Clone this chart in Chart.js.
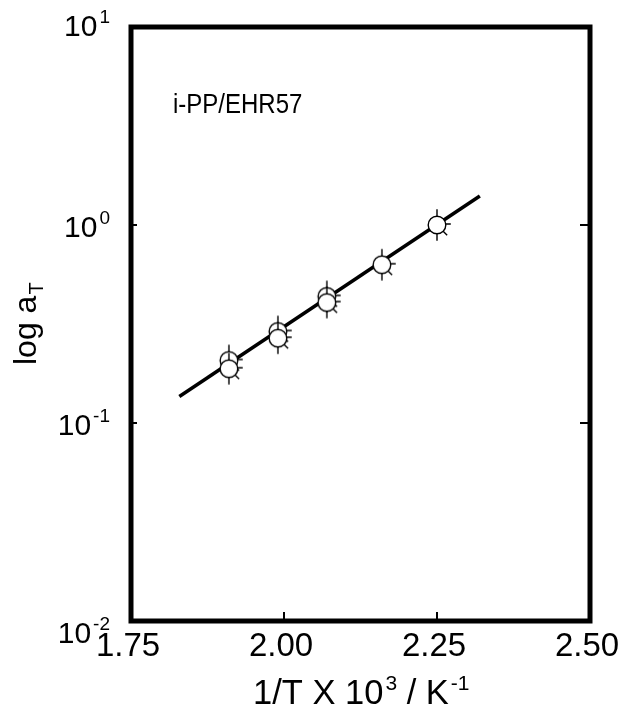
<!DOCTYPE html>
<html>
<head>
<meta charset="utf-8">
<script src="https://cdn.jsdelivr.net/npm/chart.js@4"></script>
<style>
  body { margin: 0; background: #fff; }
  #wrap { width: 619px; height: 719px; }
</style>
</head>
<body>
<div id="wrap"><canvas id="shiftChart" width="619" height="719"></canvas></div>
<script>
// measured shift factors (pairs at the same temperature drawn upper first)
const invT = [1.91, 1.91, 1.99, 1.99, 2.07, 2.07, 2.16, 2.25];
const aT = [0.207, 0.188, 0.29, 0.268, 0.436, 0.406, 0.63, 1.0];

// fitted Arrhenius line
const fitX = [1.829, 2.32];
const fitY = [0.136, 1.40];

const xTicks = [1.75, 2.00, 2.25, 2.50];
const yExps = [1, 0, -1, -2];
const xInnerTicks = [2.00, 2.25];
const yInnerTicks = [1, 0.1];

const FONT = '"Liberation Sans", Arial, Helvetica, sans-serif';

// open circle with the little spokes seen on the scanned markers
function makeMarker() {
    const c = document.createElement('canvas');
    c.width = 44; c.height = 44;
    const g = c.getContext('2d');
    const cx = 22, cy = 22, r = 8.8;
    g.strokeStyle = '#000';
    g.lineWidth = 1.4;
    g.beginPath();
    g.moveTo(cx, cy - r - 7); g.lineTo(cx, cy - r);
    g.moveTo(cx + r, cy - 1); g.lineTo(cx + r + 5, cy - 1);
    g.moveTo(cx + r * 0.7, cy + r * 0.7); g.lineTo(cx + r * 0.7 + 4, cy + r * 0.7 + 4);
    g.moveTo(cx, cy + r); g.lineTo(cx, cy + r + 7);
    g.stroke();
    g.beginPath();
    g.arc(cx, cy, r, 0, Math.PI * 2);
    g.fillStyle = '#fff';
    g.fill();
    g.stroke();
    return c;
}

function supWidth(ctx, base, sup, baseSize, supSize) {
    ctx.font = baseSize + 'px ' + FONT;
    const w1 = ctx.measureText(base).width;
    ctx.font = supSize + 'px ' + FONT;
    return w1 + 2 + ctx.measureText(sup).width;
}

function drawSup(ctx, base, sup, x, y, baseSize, supSize, rise) {
    ctx.textAlign = 'left';
    ctx.font = baseSize + 'px ' + FONT;
    ctx.fillText(base, x, y);
    const w = ctx.measureText(base).width;
    ctx.font = supSize + 'px ' + FONT;
    ctx.fillText(sup, x + w + 2, y - rise);
    return x + w + 2 + ctx.measureText(sup).width;
}

const framePlugin = {
    id: 'frame',
    afterDraw(chart) {
        const ctx = chart.ctx;
        const a = chart.chartArea;
        const xs = chart.scales.x, ys = chart.scales.y;
        ctx.save();
        ctx.strokeStyle = '#000';
        ctx.fillStyle = '#000';

        // inward ticks
        ctx.lineWidth = 2;
        ctx.beginPath();
        xInnerTicks.forEach(v => {
            const px = xs.getPixelForValue(v);
            ctx.moveTo(px, a.bottom); ctx.lineTo(px, a.bottom - 9);
        });
        yInnerTicks.forEach(v => {
            const py = ys.getPixelForValue(v);
            ctx.moveTo(a.left, py); ctx.lineTo(a.left + 6, py);
            ctx.moveTo(a.right, py); ctx.lineTo(a.right - 10, py);
        });
        ctx.stroke();

        // frame
        ctx.lineWidth = 5;
        ctx.strokeRect(a.left, a.top, a.right - a.left, a.bottom - a.top);

        // x tick labels
        ctx.textBaseline = 'alphabetic';
        ctx.textAlign = 'center';
        ctx.font = '33px ' + FONT;
        xTicks.forEach(v => {
            ctx.fillText(v.toFixed(2), xs.getPixelForValue(v) - 3, a.bottom + 35);
        });

        // y tick labels 10^n
        yExps.forEach(n => {
            const py = ys.getPixelForValue(Math.pow(10, n));
            const w = supWidth(ctx, '10', String(n), 30, 19);
            const off = n === 1 ? 9 : (n === -2 ? 22 : 12);
            drawSup(ctx, '10', String(n), a.left - 21 - w, py + off, 30, 19, 13);
        });

        // x title
        ctx.textAlign = 'left';
        let x = drawSup(ctx, '1/T X 10', '3', 253, a.bottom + 83, 34.5, 21, 14);
        drawSup(ctx, ' / K', '-1', x, a.bottom + 83, 34.5, 21, 14);

        // y title, rotated
        ctx.save();
        ctx.translate(36, 365);
        ctx.rotate(-Math.PI / 2);
        ctx.textAlign = 'left';
        ctx.font = '32px ' + FONT;
        ctx.fillText('log a', 0, 0);
        const lw = ctx.measureText('log a').width;
        ctx.font = '20px ' + FONT;
        ctx.fillText('T', lw + 1, 7);
        ctx.restore();

        // sample label
        ctx.save();
        ctx.translate(a.left + 42, a.top + 86);
        ctx.scale(1, 1.12);
        ctx.font = '24px ' + FONT;
        ctx.textAlign = 'left';
        ctx.fillText('i-PP/EHR57', 0, 0);
        ctx.restore();

        ctx.restore();
    }
};

const marker = makeMarker();

new Chart(document.getElementById('shiftChart'), {
    type: 'scatter',
    data: {
        datasets: [
            {
                label: 'a_T',
                data: invT.map((v, i) => ({ x: v, y: aT[i] })),
                pointStyle: marker,
                pointRadius: 10,
                showLine: false
            },
            {
                type: 'line',
                label: 'fit',
                data: fitX.map((v, i) => ({ x: v, y: fitY[i] })),
                borderColor: '#000',
                borderWidth: 3.5,
                pointRadius: 0,
                fill: false
            }
        ]
    },
    options: {
        responsive: false,
        animation: false,
        layout: { padding: { left: 131, top: 27, right: 29, bottom: 98 } },
        plugins: { legend: { display: false }, tooltip: { enabled: false } },
        scales: {
            x: { type: 'linear', min: 1.75, max: 2.5, display: false },
            y: { type: 'logarithmic', min: 0.01, max: 10, display: false }
        }
    },
    plugins: [framePlugin]
});
</script>
</body>
</html>
